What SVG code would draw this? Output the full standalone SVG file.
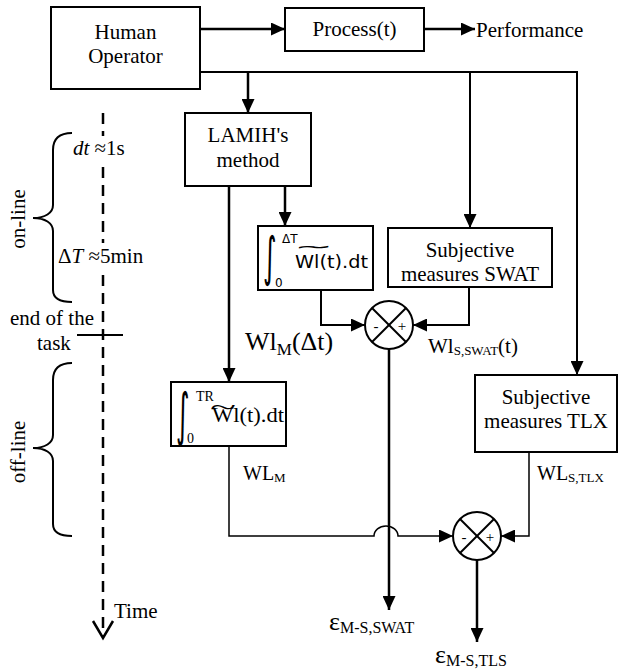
<svg xmlns="http://www.w3.org/2000/svg" width="618" height="670" viewBox="0 0 618 670">
<defs>
<style>
text{font-family:"Liberation Serif","Times New Roman",serif;fill:#000}
.t21{font-size:21px}
.c{text-anchor:middle}
.box{fill:#fff;stroke:#000;stroke-width:2}
.ln{fill:none;stroke:#000;stroke-width:2.5}
.md{fill:none;stroke:#000;stroke-width:2}
.th{fill:none;stroke:#000;stroke-width:1.5}
.sans{font-family:"DejaVu Sans","Liberation Sans",sans-serif}
</style>
<marker id="ah" markerUnits="userSpaceOnUse" markerWidth="15" markerHeight="13" refX="14" refY="6.5" orient="auto">
<path d="M0,0 L14,6.5 L0,13 z" fill="#000"/>
</marker>
</defs>
<rect width="618" height="670" fill="#fff"/>

<g id="connectors">
<line class="ln" x1="200" y1="29" x2="285" y2="29" marker-end="url(#ah)"/>
<line class="ln" x1="424" y1="29" x2="475" y2="29" marker-end="url(#ah)"/>
<polyline class="md" points="200,72 577,72 577,375" marker-end="url(#ah)"/>
<line class="ln" x1="248" y1="72" x2="248" y2="113" marker-end="url(#ah)"/>
<line class="md" x1="470" y1="72" x2="470" y2="228" marker-end="url(#ah)"/>
<line class="ln" x1="285" y1="186" x2="285" y2="226" marker-end="url(#ah)"/>
<line class="ln" x1="229" y1="186" x2="229" y2="382" marker-end="url(#ah)"/>
<polyline class="md" points="321,290 321,325 365,325" marker-end="url(#ah)"/>
<polyline class="md" points="469,287 469,325 413,325" marker-end="url(#ah)"/>
<line class="ln" x1="389" y1="349" x2="389" y2="610" marker-end="url(#ah)"/>
<path class="th" d="M229,446 L229,536 L374,536 A12,10 0 0 1 398,536 L453,536" marker-end="url(#ah)"/>
<polyline class="th" points="529,452 529,536 501,536" marker-end="url(#ah)"/>
<line class="ln" x1="477" y1="560" x2="477" y2="642" marker-end="url(#ah)"/>
</g>

<g id="human-operator">
<rect class="box" x="51" y="7" width="149" height="82"/>
<text class="t21 c" x="125.5" y="39">Human</text>
<text class="t21 c" x="125.5" y="63">Operator</text>
</g>

<g id="process">
<rect class="box" x="285" y="8" width="139" height="43"/>
<text class="t21 c" x="354.5" y="36">Process(t)</text>
</g>
<g id="performance">
<text class="t21" x="476" y="37">Performance</text>
</g>

<g id="lamih">
<rect class="box" x="185" y="113" width="126" height="73"/>
<text class="t21 c" x="248" y="142">LAMIH's</text>
<text class="t21 c" x="248" y="167">method</text>
</g>

<g id="integral-dT">
<rect class="box" x="258" y="226" width="115" height="64"/>
<text class="sans" font-size="40" transform="translate(263,275) scale(0.65,1.33)">∫</text>
<text class="sans" font-size="12" x="282" y="243">ΔT</text>
<text class="sans" font-size="12" x="275" y="287">0</text>
<text class="sans" font-size="18" transform="translate(294,253) scale(2.6,1)">~</text>
<text class="sans" font-size="18" x="295" y="268" textLength="73" lengthAdjust="spacingAndGlyphs">Wl(t).dt</text>
</g>

<g id="swat">
<rect class="box" x="388" y="228" width="164" height="59"/>
<text class="t21 c" x="470" y="257">Subjective</text>
<text class="t21 c" x="470" y="281">measures SWAT</text>
</g>

<g id="sum1">
<circle class="md" cx="389" cy="325" r="24" fill="#fff"/>
<line class="md" x1="372" y1="308" x2="406" y2="342"/>
<line class="md" x1="406" y1="308" x2="372" y2="342"/>
<text font-size="15" x="376" y="331" class="c">-</text>
<text font-size="15" x="402" y="331" class="c">+</text>
</g>

<g id="label-wlm-dt">
<text font-size="26" x="245" y="350">Wl<tspan font-size="17" dy="5">M</tspan><tspan dy="-5">(Δt)</tspan></text>
</g>
<g id="label-wls-swat">
<text font-size="21" x="428" y="353">Wl<tspan font-size="13" dy="2">S,SWAT</tspan><tspan dy="-2">(t)</tspan></text>
</g>

<g id="tlx">
<rect class="box" x="475" y="375" width="142" height="77"/>
<text class="t21 c" x="546" y="404">Subjective</text>
<text class="t21 c" x="546" y="428">measures TLX</text>
</g>

<g id="integral-TR">
<rect class="box" x="171" y="382" width="115" height="64"/>
<text font-size="40" class="sans" transform="translate(176,434) scale(0.65,1.43)">∫</text>
<text font-size="14" x="196" y="401">TR</text>
<text font-size="14" x="187" y="443">0</text>
<text font-size="21" transform="translate(210,414) scale(2.3,1)">~</text>
<text font-size="21" x="212" y="422" textLength="72" lengthAdjust="spacingAndGlyphs">Wl(t).dt</text>
</g>

<g id="label-wlm">
<text font-size="20" x="243" y="480">WL<tspan font-size="13" dy="2">M</tspan></text>
</g>
<g id="label-wls-tlx">
<text font-size="20" x="537" y="480">WL<tspan font-size="13" dy="2">S,TLX</tspan></text>
</g>

<g id="sum2">
<circle class="md" cx="477" cy="536" r="24" fill="#fff"/>
<line class="md" x1="460" y1="519" x2="494" y2="553"/>
<line class="md" x1="494" y1="519" x2="460" y2="553"/>
<text font-size="15" x="464" y="542" class="c">-</text>
<text font-size="15" x="490" y="542" class="c">+</text>
</g>

<g id="eps-swat">
<text font-size="26" x="329" y="630">ε<tspan font-size="16" dy="3">M-S,SWAT</tspan></text>
</g>
<g id="eps-tls">
<text font-size="26" x="435" y="663">ε<tspan font-size="16" dy="3">M-S,TLS</tspan></text>
</g>

<g id="timeline">
<line x1="103" y1="113" x2="103" y2="636" stroke="#000" stroke-width="2.5" stroke-dasharray="11 7"/>
<polyline class="ln" points="93,621 103,638 113,621"/>
<line class="md" x1="77" y1="335" x2="123" y2="335"/>
<rect x="70" y="136" width="70" height="31" fill="#fff"/>
<rect x="55" y="243" width="100" height="27" fill="#fff"/>
<text class="t21" x="73" y="155"><tspan font-style="italic">dt</tspan> ≈1s</text>
<text class="t21" x="58" y="263">Δ<tspan font-style="italic">T</tspan> ≈5min</text>
<text class="t21" x="10" y="325">end of the</text>
<text class="t21" x="37" y="350">task</text>
<text class="t21" x="114" y="618">Time</text>
<path class="md" d="M72,133 C60,133 53,138 53,150 L53,205 C53,213 45,218 33,218 C45,218 53,223 53,231 L53,290 C53,298 60,302 72,302"/>
<path class="md" d="M72,363 C60,363 53,368 53,380 L53,435 C53,443 45,448 33,448 C45,448 53,453 53,461 L53,524 C53,532 60,536 72,536"/>
<text class="t21 c" transform="translate(25,219) rotate(-90)">on-line</text>
<text class="t21 c" transform="translate(25,452) rotate(-90)">off-line</text>
</g>
</svg>
